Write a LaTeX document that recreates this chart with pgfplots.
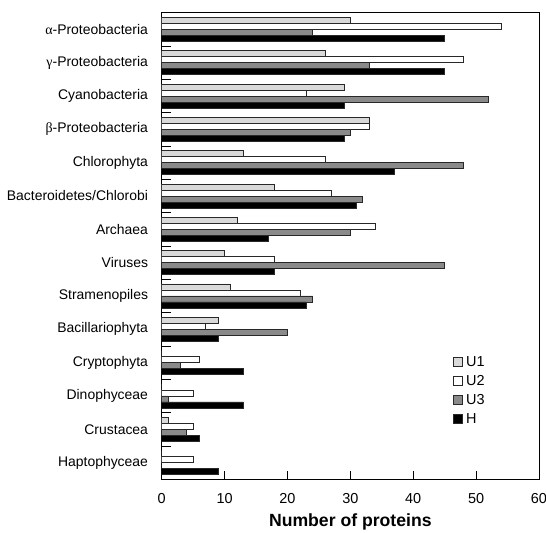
\documentclass[border=0pt]{standalone}
\usepackage{fontspec}
\setmainfont{Liberation Sans}
\newfontfamily\greek{Liberation Serif}
\usepackage{pgfplots}
\usepackage{pgfplotstable}
\pgfplotsset{compat=1.18}
\definecolor{cUone}{RGB}{217,217,217}
\definecolor{cUthree}{RGB}{138,138,138}
\definecolor{barline}{RGB}{40,40,40}
\pgfplotstableread{
cat U1 U2 U3 H
0 30 54 24 45
1 26 48 33 45
2 29 23 52 29
3 33 33 30 29
4 13 26 48 37
5 18 27 32 31
6 12 34 30 17
7 10 18 45 18
8 11 22 24 23
9 9 7 20 9
10 0 6 3 13
11 0 5 1 13
12 1 5 4 6
13 0 5 0 9
}\datatable
\begin{document}
\begin{tikzpicture}
\useasboundingbox (-161.7bp,-53.7bp) rectangle (384.3bp,479.3bp);
\begin{axis}[
  at={(0,0)}, anchor=south west,
  scale only axis,
  width=377.3bp, height=466.6bp,
  xbar, bar width=6bp,
  xmin=0, xmax=60,
  ymin=-0.5, ymax=13.5,
  y dir=reverse,
  axis line style={draw=black, line width=0.9bp},
  xtick={0,10,...,60},
  xtick pos=left, ytick pos=left,
  tick align=inside,
  major tick length=8bp,
  minor tick length=9bp,
  tick style={draw=black, line width=0.9bp},
  ytick={0,...,13},
  major y tick style={draw=none},
  minor ytick={0.5,1.5,...,12.5},
  yticklabels={{\greek α}-Proteobacteria,{\greek γ}-Proteobacteria,Cyanobacteria,{\greek β}-Proteobacteria,Chlorophyta,Bacteroidetes/Chlorobi,Archaea,Viruses,Stramenopiles,Bacillariophyta,Cryptophyta,Dinophyceae,Crustacea,Haptophyceae},
  /pgf/number format/assume math mode=true,
  yticklabel style={font=\fontsize{14}{16}\selectfont, inner sep=0pt, anchor=east, xshift=-13.5bp},
  xticklabel style={font=\fontsize{14.5}{17}\selectfont, inner sep=0pt, anchor=north, yshift=-13.7bp},
  xlabel={\textbf{Number of proteins}},
  xlabel style={font=\fontsize{17.7}{20}\selectfont, at={(axis description cs:0.5,0)}, anchor=base, yshift=-47.4bp},
  legend style={draw=none, fill=none, at={(0.772,0.266)}, anchor=north west,
    font=\fontsize{14.5}{17}\selectfont, row sep=5.5bp, inner sep=0pt,
    nodes={inner sep=1bp}},
  legend cell align=left,
  legend image code/.code={\draw[#1, line width=0.9bp] (0bp,-4.25bp) rectangle (8.5bp,4.25bp);},
  /tikz/every odd column/.append style={column sep=2.5bp},
  every axis plot/.append style={draw=barline, line width=0.9bp},
]
\addplot[xbar, bar shift=9bp, fill=cUone, draw=barline] table[x=U1, y=cat] {\datatable};
\addplot[xbar, bar shift=3bp, fill=white, draw=barline] table[x=U2, y=cat] {\datatable};
\addplot[xbar, bar shift=-3bp, fill=cUthree, draw=barline] table[x=U3, y=cat] {\datatable};
\addplot[xbar, bar shift=-9bp, fill=black, draw=barline] table[x=H, y=cat] {\datatable};
\legend{U1,U2,U3,H}
\end{axis}
\end{tikzpicture}
\end{document}
